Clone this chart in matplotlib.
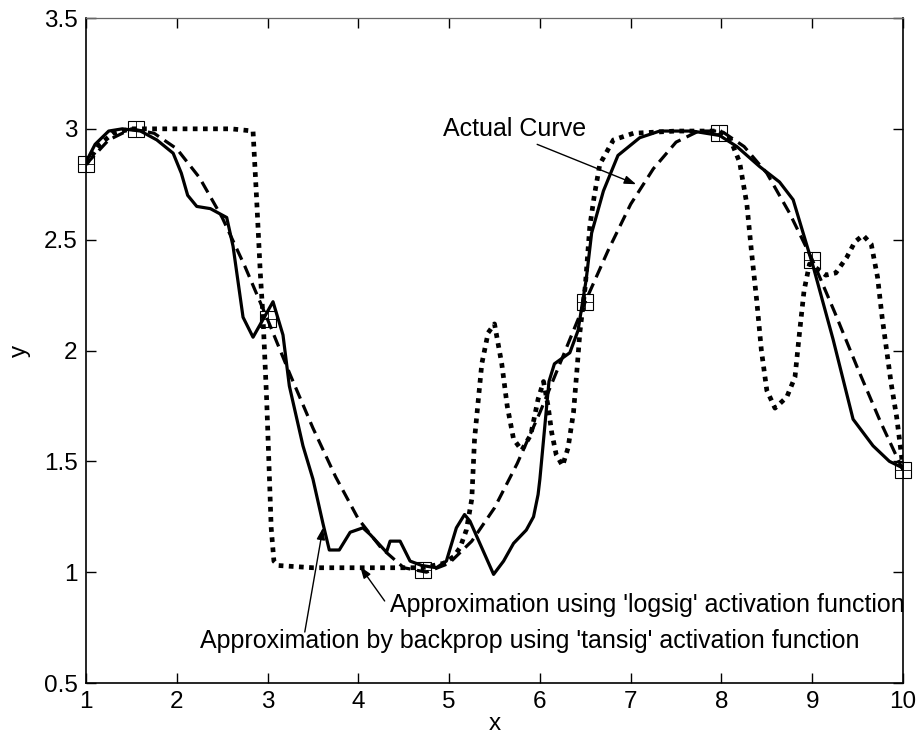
import matplotlib
matplotlib.use("Agg")
import matplotlib.pyplot as plt

plt.rcParams['font.family'] = ['Liberation Sans', 'DejaVu Sans']

# Actual curve (dashed)
actual_x = [1.0, 1.25, 1.5, 1.75, 2.0, 2.25, 2.5, 2.75, 3.0, 3.25, 3.5, 3.75, 4.0, 4.25,
            4.5, 4.75, 5.0, 5.25, 5.5, 5.75, 6.0, 6.25, 6.5, 6.75, 7.0, 7.25, 7.5, 7.75,
            8.0, 8.25, 8.5, 8.75, 9.0, 9.25, 9.5, 9.75, 10.0]
actual_y = [2.84, 2.95, 3.0, 2.98, 2.91, 2.78, 2.60, 2.38, 2.14, 1.89, 1.65, 1.43, 1.24, 1.11,
            1.02, 1.0, 1.04, 1.14, 1.29, 1.49, 1.72, 1.97, 2.22, 2.45, 2.66, 2.82, 2.94, 2.99,
            2.99, 2.92, 2.80, 2.62, 2.41, 2.17, 1.92, 1.68, 1.46]

# Backprop tansig approximation (solid)
tansig_x = [1.0, 1.1, 1.25, 1.4, 1.6, 1.78, 1.96, 2.05, 2.12, 2.22, 2.37, 2.55, 2.62, 2.73,
            2.84, 3.06, 3.17, 3.24, 3.39, 3.5, 3.61, 3.68, 3.79, 3.91, 4.05, 4.13, 4.31,
            4.35, 4.46, 4.57, 4.7, 4.86, 4.97, 5.08, 5.17, 5.23, 5.49, 5.6, 5.71, 5.85,
            5.93, 5.98, 6.0, 6.1, 6.16, 6.33, 6.42, 6.51, 6.57, 6.7, 6.86, 7.1, 7.32, 7.68,
            7.98, 8.17, 8.42, 8.64, 8.79, 8.9, 9.01, 9.23, 9.45, 9.67, 9.85, 10.0]
tansig_y = [2.85, 2.93, 2.99, 3.0, 2.99, 2.95, 2.89, 2.80, 2.70, 2.65, 2.64, 2.60, 2.47, 2.15,
            2.06, 2.22, 2.07, 1.84, 1.57, 1.42, 1.22, 1.10, 1.10, 1.18, 1.20, 1.17, 1.09,
            1.14, 1.14, 1.05, 1.03, 1.02, 1.05, 1.20, 1.26, 1.23, 0.99, 1.05, 1.13, 1.19,
            1.25, 1.35, 1.42, 1.86, 1.94, 1.99, 2.09, 2.32, 2.53, 2.72, 2.88, 2.96, 2.99, 2.99,
            2.97, 2.92, 2.83, 2.76, 2.68, 2.53, 2.38, 2.05, 1.69, 1.57, 1.50, 1.47]

# logsig approximation (dotted)
logsig_x = [1.0, 1.15, 1.3, 1.5, 1.8, 2.2, 2.6, 2.84, 2.88, 2.92, 2.95, 2.99, 3.01, 3.04,
            3.07, 3.12, 3.5, 4.0, 4.5, 4.71, 4.94, 5.05, 5.12, 5.19, 5.25, 5.28, 5.36, 5.43,
            5.5, 5.58, 5.64, 5.71, 5.8, 5.9, 5.98, 6.04, 6.09, 6.13, 6.18, 6.25, 6.31, 6.37,
            6.41, 6.44, 6.5, 6.55, 6.6, 6.66, 6.81, 7.03, 7.5, 7.98, 8.1, 8.2, 8.28, 8.33,
            8.39, 8.44, 8.5, 8.59, 8.72, 8.81, 8.86, 8.91, 8.97, 9.05, 9.15, 9.26, 9.38,
            9.47, 9.56, 9.65, 9.72, 9.77, 9.82, 9.87, 9.93, 9.97, 10.0]
logsig_y = [2.84, 2.93, 2.98, 3.0, 3.0, 3.0, 3.0, 2.99, 2.68, 2.35, 2.15, 1.78, 1.55, 1.2,
            1.05, 1.03, 1.02, 1.02, 1.02, 1.02, 1.04, 1.07, 1.11, 1.19, 1.33, 1.6, 1.94, 2.08,
            2.12, 1.94, 1.75, 1.6, 1.55, 1.62, 1.78, 1.86, 1.75, 1.63, 1.53, 1.48, 1.56, 1.72,
            1.92, 2.08, 2.29, 2.56, 2.7, 2.84, 2.95, 2.98, 2.99, 2.99, 2.95, 2.85, 2.66, 2.45,
            2.22, 2.0, 1.82, 1.74, 1.79, 1.88, 2.08, 2.27, 2.39, 2.37, 2.34, 2.35, 2.42,
            2.49, 2.52, 2.48, 2.33, 2.15, 2.0, 1.85, 1.70, 1.57, 1.47]

# Training points
pts_x = [1.0, 1.55, 3.0, 4.71, 6.5, 7.97, 9.0, 10.0]
pts_y = [2.84, 3.0, 2.14, 1.01, 2.22, 2.98, 2.41, 1.46]

xticks = [1, 2, 3, 4, 5, 6, 7, 8, 9, 10]
yticks = [0.5, 1.0, 1.5, 2.0, 2.5, 3.0, 3.5]
ytick_labels = ['0.5', '1', '1.5', '2', '2.5', '3', '3.5']

fig = plt.figure(figsize=(9.21, 7.38), dpi=100)
ax = fig.add_axes([86/921, 55/738, 817/921, 665/738])

ax.plot(actual_x, actual_y, color='black', lw=2.3, linestyle=(0, (3.8, 2.1)), zorder=3)
ax.plot(tansig_x, tansig_y, color='black', lw=2.3, linestyle='-', zorder=3)
ax.plot(logsig_x, logsig_y, color='black', lw=3.4, linestyle=(0, (1.0, 1.15)),
        dash_capstyle='butt', zorder=3)
ax.plot(pts_x, pts_y, linestyle='none', marker='s', markersize=11, mfc='none',
        mec='black', mew=0.8, zorder=4, clip_on=False)
ax.plot(pts_x, pts_y, linestyle='none', marker='+', markersize=11,
        mec='black', mew=0.6, zorder=4, clip_on=False)

ax.set_xlim(1, 10)
ax.set_ylim(0.5, 3.5)
ax.set_xticks(xticks)
ax.set_xticklabels([str(v) for v in xticks])
ax.set_yticks(yticks)
ax.set_yticklabels(ytick_labels)
ax.tick_params(direction='in', length=7, width=1, labelsize=17.5, top=True, right=True, pad=6)
for s in ['left', 'right', 'bottom']:
    ax.spines[s].set_linewidth(1.2)
ax.spines['top'].set_linewidth(0.9)
ax.spines['top'].set_color('#666666')

ax.set_xlabel('x', fontsize=17.5, labelpad=0)
ax.set_ylabel('y', fontsize=17.5, labelpad=9)

arrow = dict(arrowstyle='-|>,head_length=0.7,head_width=0.25', color='black', lw=1.0,
             shrinkA=0, shrinkB=0)
ax.annotate('Actual Curve', xy=(7.06, 2.75), xytext=(4.93, 3.0), fontsize=18,
            ha='left', va='center')
ax.annotate('', xy=(7.06, 2.75), xytext=(5.97, 2.93), arrowprops=arrow)

ax.annotate("Approximation using 'logsig' activation function", xy=(4.02, 1.025),
            xytext=(4.35, 0.85), fontsize=18, ha='left', va='center')
ax.annotate('', xy=(4.02, 1.025), xytext=(4.29, 0.87), arrowprops=arrow)

ax.annotate("Approximation by backprop using 'tansig' activation function", xy=(3.61, 1.2),
            xytext=(2.26, 0.69), fontsize=18, ha='left', va='center')
ax.annotate('', xy=(3.61, 1.2), xytext=(3.41, 0.73), arrowprops=arrow)

fig.savefig('out.png', dpi=100)
